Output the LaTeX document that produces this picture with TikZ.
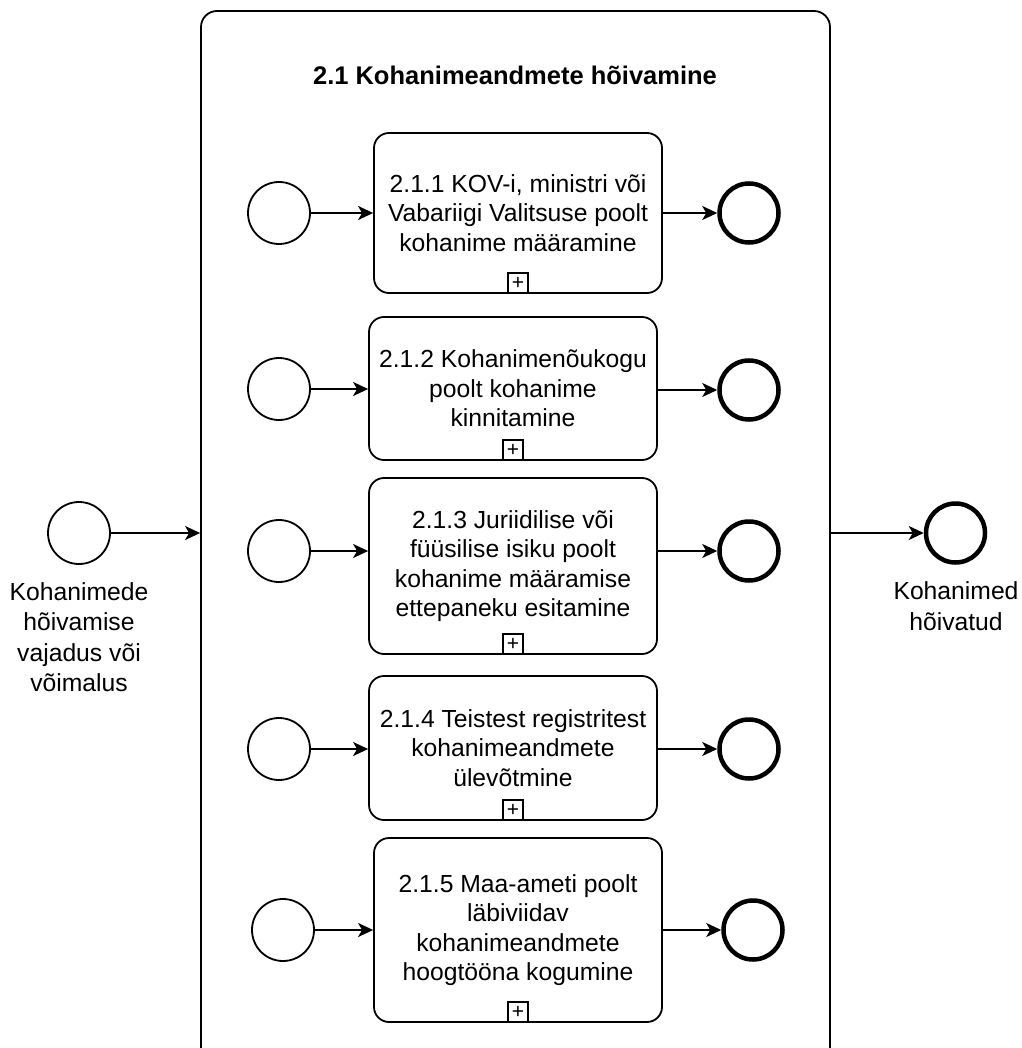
\documentclass[tikz,border=0pt]{standalone}
\usepackage{fontspec}
\setmainfont{Liberation Sans}
\usetikzlibrary{arrows.meta,calc}
\begin{document}
\begin{tikzpicture}[x=1pt,y=-1pt,
  every node/.style={font=\fontsize{24.7}{29.5}\selectfont, text=black},
  flow/.style={line width=1.8pt, -{Stealth[length=15pt,width=14pt,inset=4pt]}},
  startev/.style={circle, draw, line width=1.8pt, minimum size=62pt, inner sep=0pt},
  endev/.style={circle, draw, line width=4.5pt, minimum size=59pt, inner sep=0pt},
  task/.style={rectangle, draw, line width=1.8pt, rounded corners=15pt,
    minimum width=288pt, align=center, inner sep=0pt},
  pool/.style={rectangle, draw, line width=1.8pt, rounded corners=16pt,
    minimum width=629pt, minimum height=1059pt},
  marker/.style={rectangle, draw, line width=1.8pt, minimum size=20pt, inner sep=0pt,
    font=\fontsize{21}{21}\selectfont},
  evlabel/.style={align=center, font=\fontsize{24.7}{30.5}\selectfont}
]
\useasboundingbox (0,0) rectangle (1021,1048);
\clip (0,0) rectangle (1021,1048);

% sub-process container
\node[pool] (cont) at (515.5,540.5) {};
\node[font=\fontsize{25.5}{30}\selectfont\bfseries] (title) at (515,75) {2.1 Kohanimeandmete hõivamine};

% tasks
\node[task, minimum height=160pt] (t1) at (518,213)
  {2.1.1 KOV-i, ministri või\\Vabariigi Valitsuse poolt\\kohanime määramine};
\node[task, minimum height=143pt] (t2) at (513,388.5)
  {2.1.2 Kohanimenõukogu\\poolt kohanime\\kinnitamine};
\node[task, minimum height=176pt] (t3) at (513,566)
  {2.1.3 Juriidilise või\\füüsilise isiku poolt\\kohanime määramise\\ettepaneku esitamine};
\node[task, minimum height=144pt] (t4) at (513,748)
  {2.1.4 Teistest registritest\\kohanimeandmete\\ülevõtmine};
\node[task, minimum height=184pt] (t5) at (518,930)
  {2.1.5 Maa-ameti poolt\\läbiviidav\\kohanimeandmete\\hoogtööna kogumine};

% collapsed sub-process markers
\foreach \t in {t1,t2,t3,t4,t5}
  \node[marker, anchor=south] (m\t) at (\t.south) {+};

% inner start and end events
\node[startev] (s1) at (279,213) {};
\node[startev] (s2) at (279,389) {};
\node[startev] (s3) at (279,551) {};
\node[startev] (s4) at (279,749) {};
\node[startev] (s5) at (283,930) {};
\node[endev] (e1) at (749,213) {};
\node[endev] (e2) at (749,390) {};
\node[endev] (e3) at (749,551) {};
\node[endev] (e4) at (749,749) {};
\node[endev] (e5) at (753,930) {};

\foreach \i in {1,...,5} {
  \draw[flow] (s\i) -- (s\i -| t\i.west);
  \draw[flow] (t\i.east |- e\i) -- (e\i);
}

% outer start and end events
\node[startev] (s0) at (79,533) {};
\node[evlabel] (s0lab) at (79,637) {Kohanimede\\hõivamise\\vajadus või\\võimalus};
\node[endev] (e0) at (955.5,533) {};
\node[evlabel] (e0lab) at (956,606) {Kohanimed\\hõivatud};

\draw[flow] (s0) -- (s0 -| cont.west);
\draw[flow] (e0 -| cont.east) -- (e0);
\end{tikzpicture}
\end{document}
